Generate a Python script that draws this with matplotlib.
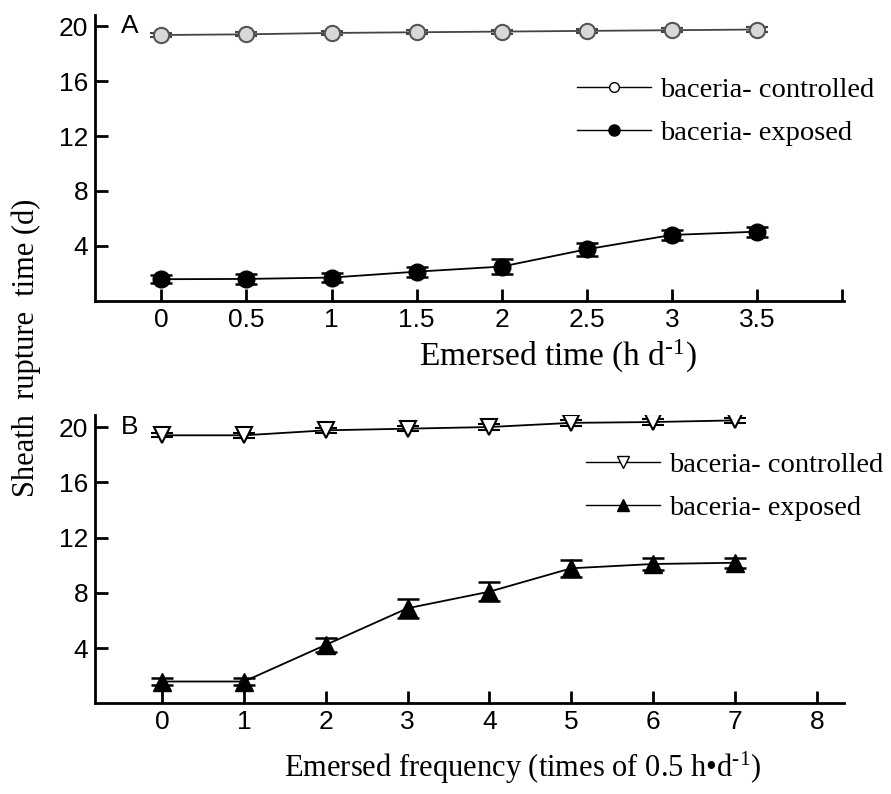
import matplotlib.pyplot as plt
from matplotlib.lines import Line2D

plt.rcParams['mathtext.fontset'] = 'custom'
plt.rcParams['mathtext.rm'] = 'Liberation Serif'
plt.rcParams['mathtext.it'] = 'Liberation Serif:italic'

# panel A: emersed time (h/d)
time_x = [0, 0.5, 1, 1.5, 2, 2.5, 3, 3.5]
time_ctrl = [19.35, 19.4, 19.5, 19.55, 19.6, 19.65, 19.7, 19.75]
time_ctrl_err = [0.15, 0.15, 0.15, 0.15, 0.15, 0.15, 0.15, 0.15]
time_exp = [1.58, 1.6, 1.7, 2.13, 2.5, 3.76, 4.8, 5.04]
time_exp_err = [0.3, 0.35, 0.3, 0.37, 0.53, 0.46, 0.39, 0.37]

# panel B: emersed frequency (times of 0.5 h/d)
freq_x = [0, 1, 2, 3, 4, 5, 6, 7]
freq_ctrl = [19.4, 19.4, 19.76, 19.88, 20.0, 20.3, 20.36, 20.48]
freq_ctrl_err = [0.15, 0.18, 0.2, 0.2, 0.2, 0.2, 0.2, 0.2]
freq_exp = [1.59, 1.59, 4.24, 6.89, 8.09, 9.78, 10.09, 10.18]
freq_exp_err = [0.25, 0.25, 0.48, 0.7, 0.7, 0.63, 0.43, 0.35]

yticks = [4, 8, 12, 16, 20]
serif = 'Liberation Serif'
sans = 'Liberation Sans'

fig = plt.figure(figsize=(8.91, 7.94), dpi=100)
axA = fig.add_axes([0.1066, 0.621, 0.8404, 0.36])
axB = fig.add_axes([0.1066, 0.114, 0.8404, 0.363])


def style_axis(ax):
    for s in ['top', 'right']:
        ax.spines[s].set_visible(False)
    for s in ['left', 'bottom']:
        ax.spines[s].set_linewidth(2)
    ax.tick_params(direction='in', length=9, width=2, labelsize=19, pad=5)
    ax.set_yticks(yticks)
    for lab in ax.get_xticklabels() + ax.get_yticklabels():
        lab.set_family(sans)


eb = dict(color='black', lw=1.3, capsize=8, capthick=1.8, elinewidth=1.3)

# panel A
axA.errorbar(time_x, time_ctrl, yerr=time_ctrl_err, fmt='-o', ms=11,
             mfc='#d8d8d8', mec='#555555', mew=1.5, **{**eb, 'color': '#444444'})
axA.errorbar(time_x, time_exp, yerr=time_exp_err, fmt='-o', ms=12,
             mfc='black', mec='black', **eb)
axA.set_xlim(-0.39, 4.01)
axA.set_ylim(0, 20.8)
axA.set_xticks([0, 0.5, 1, 1.5, 2, 2.5, 3, 3.5, 4])
axA.set_xticklabels(['0', '0.5', '1', '1.5', '2', '2.5', '3', '3.5', ''])
style_axis(axA)
axA.text(0.035, 20, 'A', transform=axA.get_yaxis_transform(), fontsize=19,
         family=sans, va='center')
axA.set_xlabel('Emersed time (h d$^{\\text{-}1}$)', fontsize=24, family=serif)
axA.xaxis.set_label_coords(0.618, -0.13)

hA = [Line2D([], [], color='black', lw=1, marker='o', ms=7, mfc='white', mec='black'),
      Line2D([], [], color='black', lw=1, marker='o', ms=8, mfc='black', mec='black')]
fig.legend(hA, ['baceria- controlled', 'baceria- exposed'], loc='upper left',
           bbox_to_anchor=(0.632, 0.921), frameon=False, handlelength=2.6,
           handletextpad=0.3, labelspacing=0.6, borderpad=0,
           prop={'family': serif, 'size': 20.5})

# panel B
axB.errorbar(freq_x, freq_ctrl, yerr=freq_ctrl_err, fmt='-v', ms=12,
             mfc='white', mec='black', mew=1.5, **eb)
axB.errorbar(freq_x, freq_exp, yerr=freq_exp_err, fmt='-^', ms=13,
             mfc='black', mec='black', **eb)
axB.set_xlim(-0.82, 8.33)
axB.set_ylim(0, 20.85)
axB.set_xticks(range(0, 9))
style_axis(axB)
axB.text(0.035, 20, 'B', transform=axB.get_yaxis_transform(), fontsize=19,
         family=sans, va='center')
axB.set_xlabel('Emersed frequency (times of 0.5 h\u2022d$^{\\text{-}1}$)',
               fontsize=22, family=serif)
axB.xaxis.set_label_coords(0.571, -0.16)

hB = [Line2D([], [], color='black', lw=1, marker='v', ms=8, mfc='white', mec='black'),
      Line2D([], [], color='black', lw=1, marker='^', ms=9, mfc='black', mec='black')]
fig.legend(hB, ['baceria- controlled', 'baceria- exposed'], loc='upper left',
           bbox_to_anchor=(0.642, 0.449), frameon=False, handlelength=2.6,
           handletextpad=0.3, labelspacing=0.6, borderpad=0,
           prop={'family': serif, 'size': 20.5})

fig.text(0.03, 0.562, 'Sheath  rupture  time (d)', rotation=90, fontsize=22,
         family=serif, ha='center', va='center')

fig.savefig('out.png', dpi=100)
